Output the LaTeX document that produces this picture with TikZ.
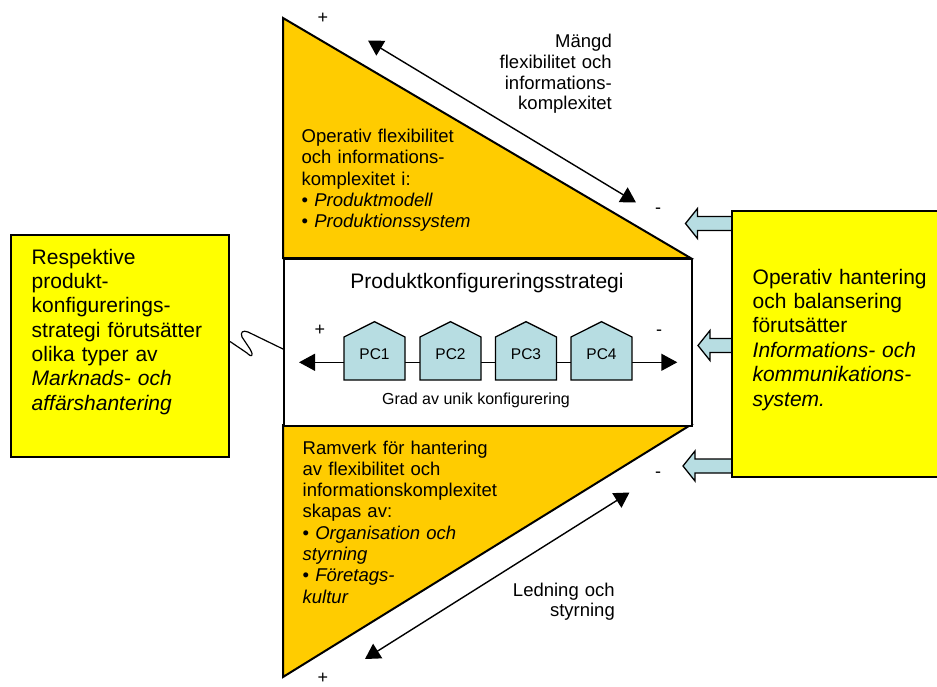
\documentclass[tikz,border=0pt]{standalone}
\usepackage{fontspec}
\setmainfont{Liberation Sans}
\usetikzlibrary{arrows.meta,calc}
\definecolor{amber}{RGB}{255,204,0}
\definecolor{lemon}{RGB}{255,255,0}
\definecolor{paleblue}{RGB}{183,221,226}
\begin{document}
\begin{tikzpicture}[x=1pt,y=-1pt,
  funnelline/.style={draw=black,line width=2pt,line join=miter},
  bigtext/.style={font=\fontsize{21}{24.4}\selectfont,inner sep=0pt,anchor=base west,text width=220pt,align=left},
  tritext/.style={font=\fontsize{18.5}{21.3}\selectfont,inner sep=0pt,anchor=base west,text width=240pt,align=left},
  sidetext/.style={font=\fontsize{18.5}{20.8}\selectfont,inner sep=0pt,anchor=base east,text width=160pt,align=right},
  signmark/.style={font=\fontsize{18}{20}\selectfont,inner sep=0pt},
  housebox/.style={draw=black,fill=paleblue,line width=1.3pt,line join=miter},
  pclabel/.style={font=\fontsize{15.5}{18}\selectfont,inner sep=0pt},
  spanarrow/.style={line width=1.4pt,{Triangle[length=15pt,width=17pt]}-{Triangle[length=15pt,width=17pt]}},
  pcaxis/.style={line width=1.4pt,{Triangle[length=16pt,width=17pt]}-{Triangle[length=16pt,width=17pt]}},
  blockarrow/.style={draw=black,fill=paleblue,line width=1.3pt,line join=miter}
]
\useasboundingbox (0,0) rectangle (937,687);

% central funnel: upper wedge, strategy band, lower wedge
\filldraw[funnelline,fill=amber] (283,18) -- (690.5,258) -- (283,258) -- cycle;
\filldraw[funnelline,fill=amber] (283,425) -- (690.5,425) -- (283,677) -- cycle;
\node[funnelline,fill=white,inner sep=0pt,minimum width=407.5pt,minimum height=167pt,anchor=north west] (strat) at (283,258) {};

% left box
\node[draw=black,line width=2pt,fill=lemon,inner sep=0pt,minimum width=218pt,minimum height=222pt,anchor=north west] (lbox) at (10,234) {};
\node[bigtext] (ltext) at (31.5,264) {Respektive\\produkt-\\konfigurerings-\\strategi förutsätter\\olika typer av\\\itshape Marknads- och\\\itshape affärshantering};

% squiggle linking left box and strategy band
\coordinate (w0) at ($(lbox.east)+(0,-4.5)$);
\coordinate (w1) at ($(strat.west)+(0,6.5)$);
\draw[line width=1.2pt,line cap=round,line join=round] (w0) -- (247,353) .. controls (252,358) and (254,356) .. (250,349) -- (242,337) .. controls (240,332) and (243,330) .. (248,332) -- (w1);

% block arrows from the right box
\foreach \tx/\cy in {685.5/223.5,698/345.5,683/466}{
  \filldraw[blockarrow] (\tx,\cy) -- (\tx+12,\cy-15) -- (\tx+12,\cy-7) -- (733,\cy-7) -- (733,\cy+7) -- (\tx+12,\cy+7) -- (\tx+12,\cy+15) -- cycle;
}

% right box (runs past the right edge)
\node[draw=black,line width=2pt,fill=lemon,inner sep=0pt,minimum width=240pt,minimum height=265.5pt,anchor=north west] (rbox) at (731,210.5) {};
\node[bigtext] (rtext) at (752.5,284) {Operativ hantering\\och balansering\\förutsätter\\\itshape Informations- och\\\itshape kommunikations-\\\itshape system.};

% wedge texts
\node[tritext] (utext) at (301.5,142.5) {Operativ flexibilitet\\och informations-\\komplexitet i:\\• \textit{Produktmodell}\\• \textit{Produktionssystem}};
\node[tritext] (btext) at (302.5,454) {Ramverk för hantering\\av flexibilitet och\\informationskomplexitet\\skapas av:\\• \textit{Organisation och}\\\textit{styrning}\\• \textit{Företags-}\\\textit{kultur}};

% range arrows along the wedges
\coordinate (ua) at (368,40.5);
\coordinate (ub) at (636,202.5);
\draw[spanarrow] (ua) -- (ub);
\coordinate (la) at (629.5,492.5);
\coordinate (lb) at (365,659);
\draw[spanarrow] (la) -- (lb);
\node[sidetext] (mtext) at (612,47.5) {Mängd\\flexibilitet och\\informations-\\komplexitet};
\node[sidetext] (ltxt2) at (615,596) {Ledning och\\styrning};

% plus / minus marks
\node[signmark] (p1) at (323,18.5) {+};
\node[signmark] (m1) at (658,211) {-};
\node[signmark] (m2) at (658,475) {-};
\node[signmark] (p2) at (323,678) {+};
\node[signmark] (p3) at (320,330) {+};
\node[signmark] (m3) at (659,333) {-};

% strategy band contents
\node[font=\fontsize{21}{24}\selectfont,inner sep=0pt,anchor=base] (title) at (487,288) {Produktkonfigureringsstrategi};
\coordinate (gl) at (299,362.3);
\coordinate (gr) at (677.3,362.3);
\draw[pcaxis] (gl) -- (gr);
\foreach \i/\x in {1/344,2/420,3/495.5,4/571}{
  \filldraw[housebox] (\x,380) -- (\x,337) -- (\x+30.5,321.7) -- (\x+61,337) -- (\x+61,380) -- cycle;
  \node[pclabel] (pc\i) at (\x+30.5,354.3) {PC\i};
}
\node[font=\fontsize{16}{19}\selectfont,inner sep=0pt,anchor=base] (grad) at (476,404) {Grad av unik konfigurering};
\end{tikzpicture}
\end{document}
